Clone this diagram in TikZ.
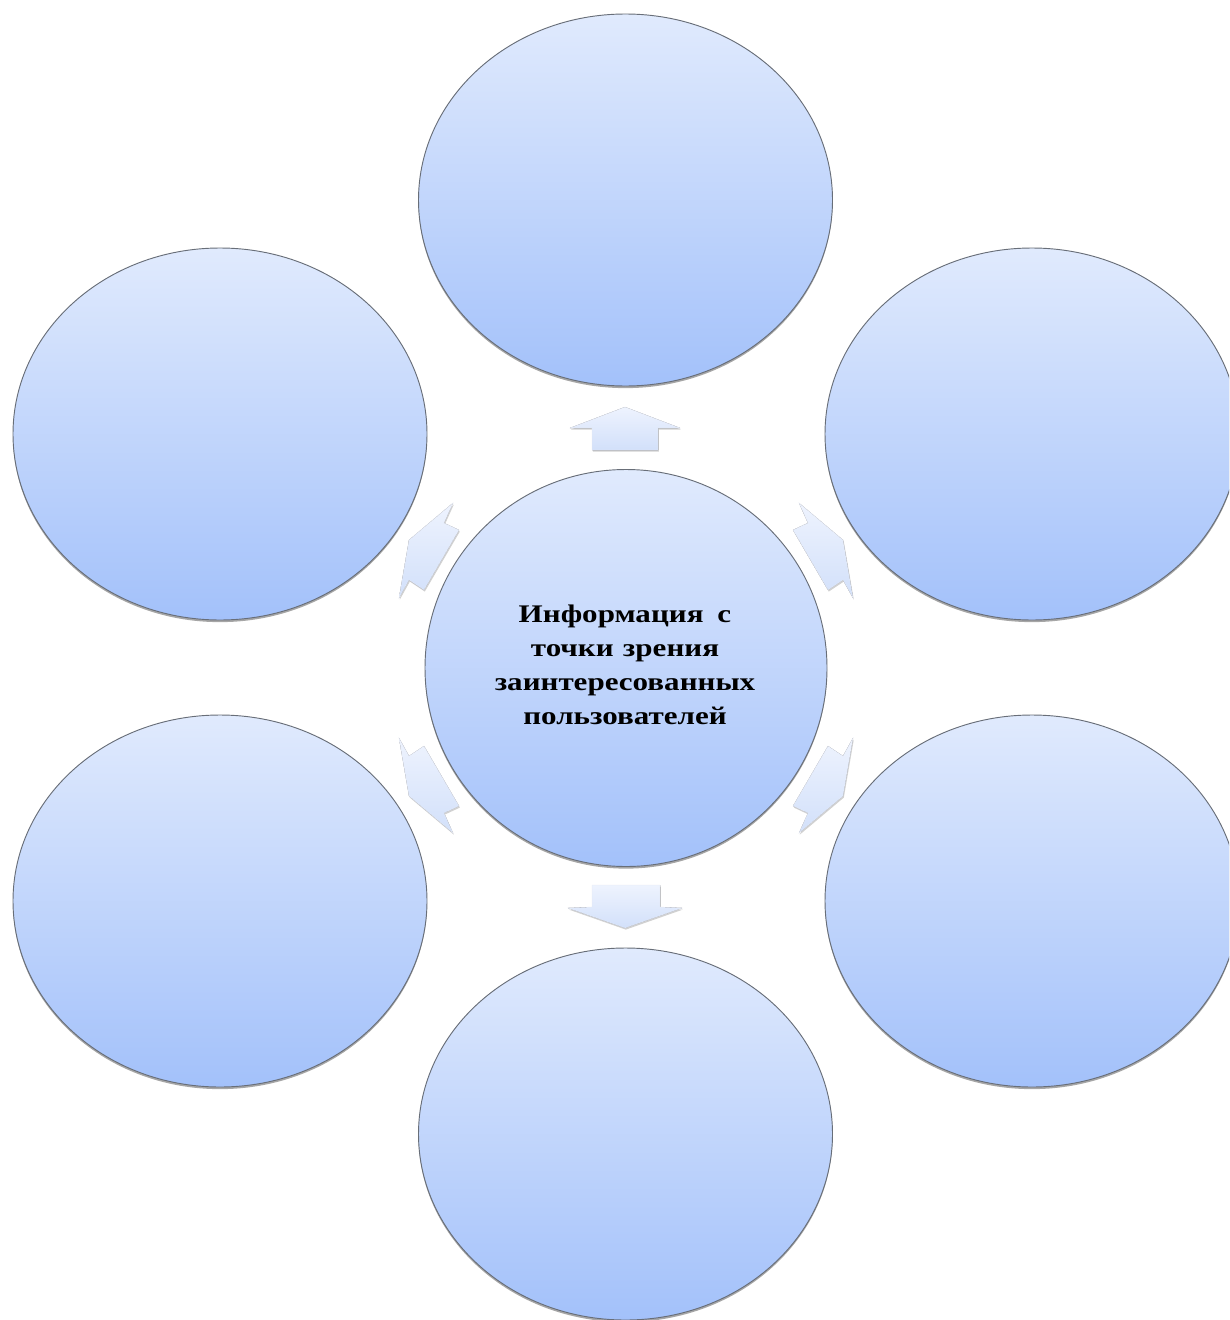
\documentclass[tikz,border=0pt]{standalone}
\usepackage{fontspec}
\setmainfont{Liberation Serif}
\usetikzlibrary{shapes.geometric,shadows}
\definecolor{cTop}{RGB}{224,234,253}
\definecolor{cBot}{RGB}{163,193,250}
\definecolor{aTop}{RGB}{238,243,254}
\definecolor{aBot}{RGB}{210,224,250}
\definecolor{cLine}{RGB}{104,110,120}
\begin{document}
\begin{tikzpicture}[x=0.75pt,y=-0.75pt,
  bubble/.style={ellipse, draw=cLine, line width=0.7pt, top color=cTop, bottom color=cBot,
    inner sep=0pt, outer sep=0pt,
    drop shadow={shadow xshift=0pt, shadow yshift=-1.6pt, opacity=0.35, fill=black}},
  outer/.style={bubble, minimum width=310.5pt, minimum height=279pt},
  core/.style={bubble, minimum width=301.5pt, minimum height=297.75pt},
  blockarrow/.style={top color=aTop, bottom color=aBot, draw=aBot!80!cLine!40, line width=0.3pt,
    drop shadow={shadow xshift=0.6pt, shadow yshift=-1.2pt, opacity=0.18, fill=black}},
  label/.style={font=\bfseries\fontsize{19}{25.5}\selectfont, align=center, inner sep=0pt}]
\useasboundingbox (0,0) rectangle (1229,1320);
\clip (0,0) rectangle (1229,1320);
% outer bubbles
\node[outer] (t)  at (625.5,200) {};
\node[outer] (ul) at (220,434) {};
\node[outer] (ur) at (1032,434) {};
\node[outer] (ll) at (220,901) {};
\node[outer] (lr) at (1032,901) {};
\node[outer] (b)  at (625.5,1134) {};
% centre
\node[core] (c) at (626,668) {};
\node[label] (txt) at (625,667) {\scalebox{1.225}[1]{\begin{tabular}{@{}c@{}}Информация\hspace{0.45em}с\\точки\hspace{0.3em}зрения\\заинтересованных\\пользователей\end{tabular}}};
% block arrows
\filldraw[blockarrow] (625,407) -- (680,428) -- (658,428) -- (658,450) -- (592,450) -- (592,428) -- (570,428) -- cycle;
\filldraw[blockarrow] (592,885) -- (660,885) -- (660,907) -- (682,908) -- (625,928) -- (568,908) -- (592,907) -- cycle;
\filldraw[blockarrow] (799,503) -- (808,523) -- (793,530) -- (828,590) -- (843,580) -- (853,598) -- (843,540) -- cycle;
\filldraw[blockarrow] (453,503) -- (444,523) -- (459,530) -- (424,590) -- (409,580) -- (399,598) -- (409,540) -- cycle;
\filldraw[blockarrow] (799,833) -- (808,813) -- (793,806) -- (828,746) -- (843,756) -- (853,738) -- (843,796) -- cycle;
\filldraw[blockarrow] (453,833) -- (444,813) -- (459,806) -- (424,746) -- (409,756) -- (399,738) -- (409,796) -- cycle;
\end{tikzpicture}
\end{document}
